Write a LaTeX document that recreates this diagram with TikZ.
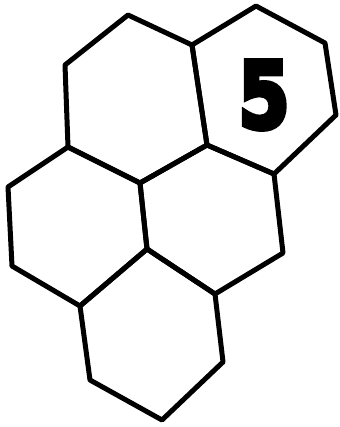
\documentclass[tikz,border=0pt]{standalone}
\usepackage{fontspec}
\newfontfamily\digitfont{DejaVu Sans Bold}[FakeBold=6]
\begin{document}
\begin{tikzpicture}[x=1pt,y=-1pt,
  hexline/.style={line width=5pt,line join=round,line cap=round,black},
  label5/.style={inner sep=0pt,xscale=0.8,font=\digitfont\fontsize{92}{92}\selectfont}]
\useasboundingbox (0,0) rectangle (339,427);
% vertices
\coordinate (a1) at (128,15);
\coordinate (j1) at (192,45);
\coordinate (aul) at (65,65);
\coordinate (j2) at (68,147);
\coordinate (j3) at (140,183);
\coordinate (j4) at (207,145);
\coordinate (btop) at (256,6);
\coordinate (bur) at (325,43);
\coordinate (br) at (336,115);
\coordinate (j5) at (274,174);
\coordinate (lul) at (8,187);
\coordinate (lll) at (12,266);
\coordinate (j6) at (80,306);
\coordinate (j7) at (147,249);
\coordinate (mr) at (283,253);
\coordinate (j8) at (215,294);
\coordinate (clr) at (223,362);
\coordinate (cb) at (162,420);
\coordinate (cll) at (90,380);
% hexagons
\draw[hexline] (a1) -- (j1) -- (j4) -- (j3) -- (j2) -- (aul) -- cycle;
\draw[hexline] (btop) -- (bur) -- (br) -- (j5) -- (j4) -- (j1) -- cycle;
\draw[hexline] (j2) -- (j3) -- (j7) -- (j6) -- (lll) -- (lul) -- cycle;
\draw[hexline] (j3) -- (j4) -- (j5) -- (mr) -- (j8) -- (j7) -- cycle;
\draw[hexline] (j7) -- (j8) -- (clr) -- (cb) -- (cll) -- (j6) -- cycle;
% label
\node[label5] (five) at (264,95) {5};
\end{tikzpicture}
\end{document}
